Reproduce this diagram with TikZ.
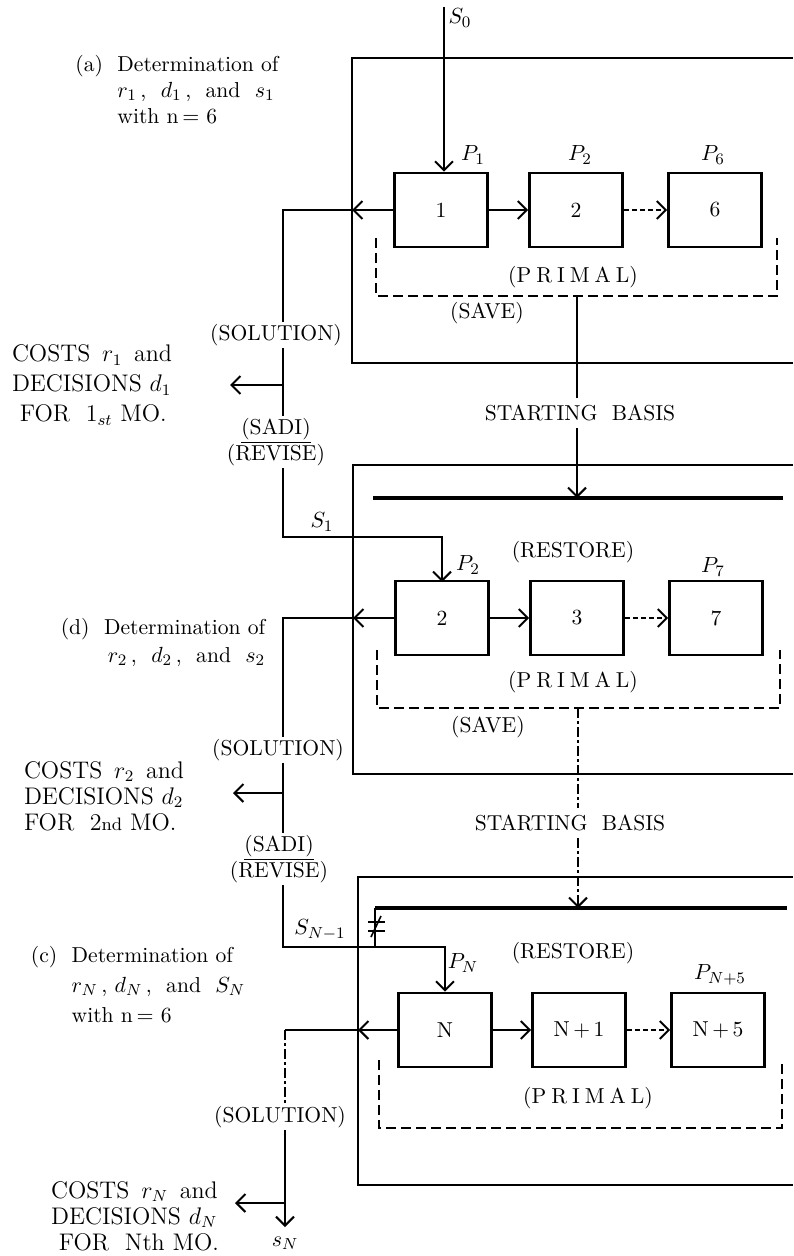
\documentclass[tikz,border=0pt]{standalone}
\usepackage{amsmath}
\usetikzlibrary{arrows.meta,positioning,calc}
\tikzset{
  blk/.style={draw, line width=1.3pt, minimum width=46.5pt, minimum height=37pt, inner sep=0pt, font=\fontsize{10.8}{13}\selectfont},
  frm/.style={line width=0.7pt},
  wire/.style={line width=1.3pt},
  tip/.style={-{Straight Barb[length=4.5pt,width=9pt,line width=1pt]}},
  prim/.style={line width=1.3pt, dash pattern=on 5pt off 2.5pt},
  hop/.style={line width=1.3pt, dash pattern=on 2.5pt off 1.5pt},
  dd/.style={line width=1pt, dash pattern=on 5pt off 1.5pt on 1.5pt off 1.5pt},
  txt/.style={inner sep=1pt, font=\fontsize{10.8}{13}\selectfont},
  cost/.style={inner sep=1pt, align=left, font=\large},
}
\newcommand{\primal}{(P\kern2.5pt R\kern2.5pt I\kern2.5pt M\kern2.5pt A\kern2.5pt L)}
\begin{document}
\begin{tikzpicture}[x=0.5pt, y=-0.5pt]
    \useasboundingbox (0,0) rectangle (793,1256);
    % Frames
    \draw[frm] (793,58) -- (352,58) -- (352,363) -- (793,363);
    \draw[frm] (793,465) -- (353,465) -- (353,774) -- (793,774);
    \draw[frm] (793,877) -- (358,877) -- (358,1185) -- (793,1185);
    % Row 1: months 1 to 6
    \node[blk] (b1) at (441,210) {1};
    \node[blk] (b2) at (576,210) {2};
    \node[blk] (b6) at (715,210) {6};
    \node[txt] at (473,155) {$P_1$};
    \node[txt] at (580,155) {$P_2$};
    \node[txt] at (713,155) {$P_6$};
    \draw[wire,tip] (b1) -- (b2);
    \draw[hop,tip] (b2) -- (b6);
    \coordinate (s0) at (444,7);
    \node[txt] at (460,18) {$S_0$};
    \draw[wire,tip] (s0) -- (s0 |- b1.north);
    \draw[prim] (376,238) -- (376,296) -- (777,296) -- (777,238);
    \node[txt] at (573,277) {\primal};
    \node[txt] at (487,313) {(SAVE)};
    \node[txt] (sb1) at (580,413) {STARTING\ \ BASIS};
    \draw[wire] (577,296) -- (577,398);
    \draw[wire,tip] (577,428) -- (577,498);
    \draw[line width=1.6pt] (373,498) -- (783,498);
    % Row 1 output
    \node[txt] at (177,92) {\begin{tabular}{@{}l@{\ \ }l@{}}(a) & Determination of\\ & $r_1$\,, \ $d_1$\,, \ and \ $s_1$\\ & with n$\,=$ 6\end{tabular}};
    \coordinate (wa) at (283,210);
    \node[txt] (sol1) at (276,335) {(SOLUTION)};
    \node[txt,align=center] (rev1) at (276,442) {\underline{(SADI)}\\(REVISE)};
    \node[cost] (cost1) at (92,385) {COSTS \,$r_1$\, and\\[1pt]DECISIONS $d_1$\\[1pt]\ FOR \ $1_{st}$ MO.};
    \draw[wire,tip] (b1.west) -- (352,210);
    \draw[wire] (352,210) -- (wa) -- (wa |- sol1.north);
    \draw[wire] (wa |- sol1.south) -- (wa |- rev1.north);
    \draw[wire,tip] (283,385) -- (230,385);
    \draw[wire,tip] (wa |- rev1.south) -- (283,537) -| (442,582);
    \node[txt] at (322,522) {$S_1$};
    % Row 2: months 2 to 7
    \node[blk] (c2) at (442,618) {2};
    \node[blk] (c3) at (577,618) {3};
    \node[blk] (c7) at (716,618) {7};
    \node[txt] at (468,565) {$P_2$};
    \node[txt] at (713,567) {$P_7$};
    \node[txt] at (573,552) {(RESTORE)};
    \draw[wire,tip] (c2) -- (c3);
    \draw[hop,tip] (c3) -- (c7);
    \draw[prim] (377,650) -- (377,708) -- (780,708) -- (780,650);
    \node[txt] at (573,682) {\primal};
    \node[txt] at (488,727) {(SAVE)};
    \node[txt] (sb2) at (570,823) {STARTING\ \ BASIS};
    \draw[dd] (578,708) -- (578,808);
    \draw[dd,tip] (578,838) -- (578,908);
    % Row 2 output
    \node[txt] at (163,643) {\begin{tabular}{@{}l@{\ \ }r@{}}(d) & Determination of\\[1pt] & $r_2$\,, \ $d_2$\,, \ and \ $s_2$\end{tabular}};
    \coordinate (wb) at (283,618);
    \node[txt] (sol2) at (278,750) {(SOLUTION)};
    \node[txt,align=center] (rev2) at (279,859) {\underline{(SADI)}\\(REVISE)};
    \node[cost] (cost2) at (104,796) {COSTS \,$r_2$\, and\\[-1pt]DECISIONS $d_2$\\[-1pt]FOR \ 2{\small nd} MO.};
    \draw[wire,tip] (c2.west) -- (353,618);
    \draw[wire] (353,618) -- (wb) -- (wb |- sol2.north);
    \draw[wire] (wb |- sol2.south) -- (wb |- rev2.north);
    \draw[wire,tip] (283,793) -- (233,793);
    % Row 3: months N to N+5
    \node[blk] (dN) at (445,1030) {N};
    \node[blk] (dN1) at (579,1030) {N\,+\,1};
    \node[blk] (dN5) at (718,1030) {N\,+\,5};
    \node[txt] at (463,963) {$P_N$};
    \node[txt] at (720,975) {$P_{N+5}$};
    \node[txt] at (573,953) {(RESTORE)};
    \draw[wire,tip] (dN) -- (dN1);
    \draw[hop,tip] (dN1) -- (dN5);
    \draw[line width=1.6pt] (375,908) -- (787,908);
    \draw[prim] (379,1060) -- (379,1128) -- (782,1128) -- (782,1060);
    \node[txt] at (588,1098) {\primal};
    \draw[wire,tip] (wb |- rev2.south) -- (283,947) -| (dN.north);
    \node[txt] at (320,930) {$S_{N-1}$};
    \draw[wire] (375,947) -- (375,908);
    \draw[line width=1pt] (368,922) -- (385,922);
    \draw[line width=1pt] (368,931) -- (385,931);
    \draw[line width=0.8pt] (371,937) -- (381,916);
    % Row 3 output
    \node[txt] at (138,987) {\begin{tabular}{@{}l@{\ \ }l@{}}(c) & Determination of\\[2pt] & $r_N$\,, $d_N$\,, \ and \ $S_N$\\[2pt] & with n$\,=$ 6\end{tabular}};
    \coordinate (wc) at (285,1030);
    \node[txt] (sol3) at (280,1117) {(SOLUTION)};
    \node[cost] (cost3) at (135,1216) {COSTS \,$r_N$\, and\\[-1pt]DECISIONS $d_N$\\[-1pt]\ FOR \ Nth MO.};
    \draw[wire,tip] (dN.west) -- (358,1030);
    \draw[wire] (358,1030) -- (wc);
    \draw[dd] (wc) -- (wc |- sol3.north);
    \draw[wire,tip] (wc |- sol3.south) -- (285,1227);
    \draw[wire,tip] (285,1203) -- (235,1203);
    \node[txt] at (285,1243) {$s_N$};
  \end{tikzpicture}
\end{document}
